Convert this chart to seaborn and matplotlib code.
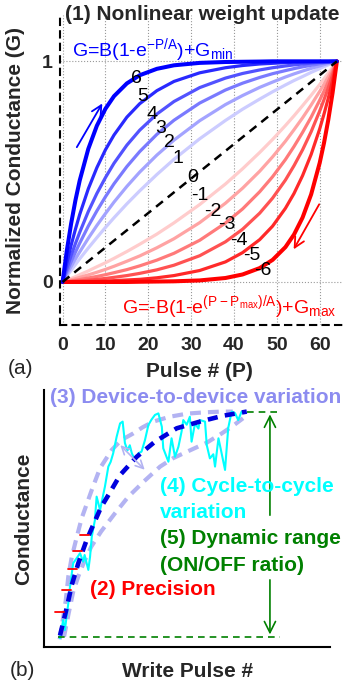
import matplotlib
matplotlib.use('Agg')
import matplotlib.pyplot as plt
import seaborn as sns

# ---------------- panel (a) data: normalized conductance vs pulse ----------------
pulse = [0, 1, 2, 3, 4, 6, 8, 10, 12, 15, 18, 22, 26, 32, 38, 42, 46, 49, 52, 54, 56, 58, 60, 61, 62, 63, 64]

# potentiation curves (nonlinearity 6 .. 1)
g_p6 = [0, .143, .265, .370, .460, .603, .708, .785, .842, .900, .937, .966, .982, .993, .997, .998, .999, 1, 1, 1, 1, 1, 1, 1, 1, 1, 1]
g_p5 = [0, .087, .167, .239, .306, .422, .518, .599, .666, .747, .808, .867, .909, .948, .971, .981, .988, .991, .994, .996, .997, .998, .999, .999, .999, 1, 1]
g_p4 = [0, .062, .120, .174, .225, .319, .401, .473, .538, .620, .688, .761, .818, .881, .924, .945, .961, .971, .979, .984, .988, .992, .995, .996, .998, .999, 1]
g_p3 = [0, .047, .092, .135, .176, .253, .322, .386, .445, .523, .591, .669, .733, .811, .870, .901, .927, .944, .958, .967, .975, .982, .989, .992, .995, .997, 1]
g_p2 = [0, .036, .070, .104, .136, .198, .256, .310, .362, .433, .498, .575, .643, .731, .804, .845, .882, .906, .929, .943, .956, .968, .979, .985, .990, .995, 1]
g_p1 = [0, .027, .053, .079, .105, .154, .201, .247, .291, .354, .413, .487, .556, .649, .732, .783, .829, .862, .893, .913, .931, .950, .967, .976, .984, .992, 1]
# depression-like curves (nonlinearity -1 .. -6)
g_m1 = [0, .008, .016, .024, .033, .050, .069, .087, .107, .138, .171, .217, .268, .351, .444, .513, .587, .646, .709, .753, .799, .846, .895, .921, .947, .973, 1]
g_m2 = [0, .005, .010, .015, .021, .032, .044, .057, .071, .094, .118, .155, .196, .269, .357, .425, .502, .567, .638, .690, .744, .802, .864, .896, .930, .964, 1]
g_m3 = [0, .003, .005, .008, .011, .018, .025, .033, .042, .056, .073, .099, .130, .189, .267, .331, .409, .477, .555, .614, .678, .747, .824, .865, .908, .953, 1]
g_m4 = [0, .001, .002, .004, .005, .008, .012, .016, .021, .029, .039, .055, .076, .119, .182, .239, .312, .380, .462, .527, .599, .681, .775, .826, .880, .938, 1]
g_m5 = [0, 0, .001, .001, .001, .002, .003, .004, .006, .009, .012, .019, .029, .052, .091, .133, .192, .253, .334, .401, .482, .578, .694, .761, .833, .913, 1]
g_m6 = [0, 0, 0, 0, 0, 0, 0, 0, 0, 0, .001, .002, .003, .007, .018, .034, .063, .100, .158, .215, .292, .397, .540, .630, .735, .857, 1]

linear_pulse = [0, 64]
linear_g = [0, 1]

nl_labels = ['6', '5', '4', '3', '2', '1', '0', '-1', '-2', '-3', '-4', '-5', '-6']
nl_label_x = [17.3, 18.8, 20.8, 23.0, 24.9, 27.0, 30.4, 32.0, 35.0, 38.3, 41.2, 44.1, 46.8]
nl_label_y = [0.92, 0.84, 0.76, 0.695, 0.63, 0.56, 0.475, 0.39, 0.32, 0.26, 0.19, 0.12, 0.054]

x_ticks_a = [0, 10, 20, 30, 40, 50, 60]
y_ticks_a = [0, 1]

# ---------------- panel (b) data: schematic of device non-idealities ----------------
mean_x = [5.6, 7.9, 9.7, 12, 14.9, 17.8, 20, 22.5, 26.6, 32.4, 38.8, 46.4, 54.5, 62.7, 70.9]
mean_y = [4.5, 15, 24.1, 32.6, 41.6, 49, 54.5, 59.1, 66.9, 74, 79.9, 85.1, 87.7, 90, 91.6]

d2d_upper_x = [5.5, 6.2, 7.6, 8.5, 9.7, 11.5, 13.2, 16.7, 19.6, 23.7, 27, 31.2, 34.5, 38.2, 44, 50, 56, 62, 66]
d2d_upper_y = [3, 7.9, 18, 27.4, 35, 43, 50.2, 61.1, 69.6, 76.7, 80.5, 83.1, 85.5, 87.7, 89.6, 90.8, 91.3, 91.6, 91.6]
d2d_lower_x = [7, 8.6, 10.2, 12, 13.8, 16.5, 20, 24.8, 29.5, 35, 40.6, 45.2, 51, 56.9, 62, 66, 69.6]
d2d_lower_y = [4, 13, 21.5, 27.5, 32.5, 39, 45, 52, 58.5, 64.5, 70.2, 73.5, 76.5, 79.5, 83, 86, 89]

c2c_x = [5.6, 6.7, 7.3, 8.5, 9.1, 10.2, 11.4, 12.6, 13.7, 14.2, 15.5, 16.1, 16.7, 17.8, 18.4, 19.6,
         21.3, 22.5, 23.3, 24.2, 25.4, 26.6, 27.5, 28.3, 29.2, 30, 30.7, 31.8, 33, 34.1, 35.3, 36.5,
         37.6, 38.8, 40, 41.2, 41.7, 43.5, 44.6, 45.8, 47, 48.1, 48.7, 49.9, 51, 51.6, 52.8, 54,
         54.5, 56.3, 56.9, 58, 59.2, 59.8, 61, 62.1, 63.3, 64.4, 65.6, 66.8, 67.9, 69.1]
c2c_y = [3.4, 10.5, 6.6, 17, 23.5, 32.6, 34.5, 36.5, 33.2, 35.8, 30, 35.1, 42.9, 49.4, 58.5, 53.3,
         62.4, 70.2, 72, 75.4, 81.8, 87, 87.7, 79.3, 76.5, 78.5, 75.4, 72.8, 75.4, 76, 80.5, 86.4,
         88.5, 90.3, 90.9, 85.7, 77.3, 72.1, 81.2, 74, 77.9, 83.8, 88.3, 86.5, 89.6, 79.9, 87, 85,
         88.3, 87.7, 78.6, 73.4, 75, 70.2, 81.2, 75.4, 68.9, 85.1, 91.6, 91, 88.3, 91.6]

precision_x = [3.8, 6.2, 8.3, 10.2, 12.6]
precision_y = [13.7, 22.2, 30.2, 37.5, 43.6]

g_min_level = 3.8
g_max_level = 91.6
range_x = 79

sns.set_theme(style='white')
plt.rcParams['font.family'] = ['Liberation Sans', 'DejaVu Sans']
plt.rcParams['mathtext.fontset'] = 'custom'
plt.rcParams['mathtext.rm'] = 'Liberation Sans'
plt.rcParams['mathtext.default'] = 'regular'

fig = plt.figure(figsize=(3.47, 6.84), dpi=100)
ax1 = fig.add_axes([60 / 347, 1 - 325 / 684, 282 / 347, 310 / 684])
ax2 = fig.add_axes([44 / 347, 1 - 647 / 684, 286 / 347, 257 / 684])

# ---- panel (a) ----
blue_curves = [g_p1, g_p2, g_p3, g_p4, g_p5, g_p6]
blue_cols = ['#CCCCFF', '#A3A3FF', '#7A7AFF', '#5252FF', '#2929FF', '#0000FF']
red_curves = [g_m1, g_m2, g_m3, g_m4, g_m5, g_m6]
red_cols = ['#FFCCCC', '#FFA3A3', '#FF7A7A', '#FF5252', '#FF2929', '#FF0000']

for i in range(6):
    w = 2.9 if i == 5 else 2.3
    sns.lineplot(x=pulse, y=red_curves[i], ax=ax1, color=red_cols[i], lw=w)
    sns.lineplot(x=pulse, y=blue_curves[i], ax=ax1, color=blue_cols[i], lw=w)
sns.lineplot(x=linear_pulse, y=linear_g, ax=ax1, color='black', lw=1.8,
             linestyle=(0, (3.5, 2.5)))

for lab, lx, ly in zip(nl_labels, nl_label_x, nl_label_y):
    ax1.text(lx, ly, lab, fontsize=14, ha='center', va='center', color='black')

ax1.text(2.2, 1.05, r'G=B(1-e$^{-P/A}$)+G$_{min}$', color='#0000FF', fontsize=14,
         ha='left', va='center')
ax1.text(13.9, -0.113, r'G=-B(1-e$^{(P-P_{max})/A}$)+G$_{max}$', color='#FF0000',
         fontsize=14, ha='left', va='center')

ax1.annotate('', xy=(9.6, 0.82), xytext=(3.0, 0.6),
             arrowprops=dict(arrowstyle='->', color='#0000FF', lw=1.3, mutation_scale=18))
ax1.annotate('', xy=(53.6, 0.137), xytext=(60.2, 0.363),
             arrowprops=dict(arrowstyle='->', color='#FF0000', lw=1.3, mutation_scale=18))

ax1.set_xlim(-0.6, 65.2)
ax1.set_ylim(-0.195, 1.21)
ax1.set_xticks(x_ticks_a)
ax1.set_yticks(y_ticks_a)
ax1.grid(True, linestyle=':', color='0.6', lw=0.8)
ax1.set_axisbelow(True)
ax1.tick_params(axis='both', length=0, labelsize=14)
ax1.tick_params(axis='x', pad=9)
ax1.tick_params(axis='y', pad=5)
for lbl in ax1.get_xticklabels() + ax1.get_yticklabels():
    lbl.set_fontweight('bold')
for side in ['top', 'right']:
    ax1.spines[side].set_visible(False)
for side in ['left', 'bottom']:
    ax1.spines[side].set_color('black')
    ax1.spines[side].set_linewidth(1.5)
    ax1.spines[side].set_linestyle((0, (3, 3)))
ax1.set_xlabel('Pulse # (P)', fontsize=15, fontweight='bold')
ax1.set_ylabel('Normalized Conductance (G)', fontsize=15, fontweight='bold')
ax1.xaxis.set_label_coords(0.496, -0.119)
ax1.yaxis.set_label_coords(-0.124, 0.5)

fig.text(65 / 347, 1 - 15 / 684, '(1) Nonlinear weight update', fontsize=15,
         fontweight='bold', ha='left', va='center')
fig.text(8 / 347, 1 - 368 / 684, '(a)', fontsize=15, ha='left', va='center')
fig.text(10 / 347, 1 - 671 / 684, '(b)', fontsize=15, ha='left', va='center')

# ---- panel (b) ----
purple_light = '#B3B3F2'
sns.lineplot(x=d2d_upper_x, y=d2d_upper_y, ax=ax2, color=purple_light, lw=3,
             linestyle=(0, (2.6, 1.7)), sort=False, estimator=None)
sns.lineplot(x=d2d_lower_x, y=d2d_lower_y, ax=ax2, color=purple_light, lw=3,
             linestyle=(0, (2.6, 1.7)), sort=False, estimator=None)
sns.lineplot(x=c2c_x, y=c2c_y, ax=ax2, color='#00FFFF', lw=1.5, sort=False, estimator=None)
sns.lineplot(x=mean_x, y=mean_y, ax=ax2, color='#0000DD', lw=3.3,
             linestyle=(0, (2.2, 1.6)), sort=False, estimator=None)

for px, py in zip(precision_x, precision_y):
    ax2.plot([px, px + 3.2], [py, py], color='#FF0000', lw=1.3)

green = '#008000'
ax2.plot([5, 82.5], [g_min_level, g_min_level], color=green, lw=1.2, linestyle=(0, (4, 3)))
ax2.plot([mean_x[-1], 82.5], [g_max_level, g_max_level], color=green, lw=1.2,
         linestyle=(0, (4, 3)))
ax2.annotate('', xy=(range_x, g_max_level), xytext=(range_x, 50.2),
             arrowprops=dict(arrowstyle='->', color=green, lw=1.2, mutation_scale=20))
ax2.annotate('', xy=(range_x, g_min_level), xytext=(range_x, 27.2),
             arrowprops=dict(arrowstyle='->', color=green, lw=1.2, mutation_scale=20))
ax2.annotate('', xy=(35.9, 68.2), xytext=(26, 79.3),
             arrowprops=dict(arrowstyle='<->', color=purple_light, lw=1.2, mutation_scale=14))

ax2.text(2.1, 96.9, '(3) Device-to-device variation', color='#8C8CF0', fontsize=15,
         fontweight='bold', ha='left', va='center')
ax2.text(40.6, 62.3, '(4) Cycle-to-cycle', color='#00FFFF', fontsize=15,
         fontweight='bold', ha='left', va='center')
ax2.text(40.6, 52.5, 'variation', color='#00FFFF', fontsize=15,
         fontweight='bold', ha='left', va='center')
ax2.text(40.6, 42.4, '(5) Dynamic range', color=green, fontsize=15,
         fontweight='bold', ha='left', va='center')
ax2.text(40.6, 31.9, '(ON/OFF ratio)', color=green, fontsize=15,
         fontweight='bold', ha='left', va='center')
ax2.text(16.1, 22.2, '(2) Precision', color='#FF0000', fontsize=15,
         fontweight='bold', ha='left', va='center')

ax2.set_xlim(0, 100)
ax2.set_ylim(0, 100)
ax2.set_xticks([])
ax2.set_yticks([])
for side in ['top', 'right']:
    ax2.spines[side].set_visible(False)
for side in ['left', 'bottom']:
    ax2.spines[side].set_color('black')
    ax2.spines[side].set_linewidth(1.5)
ax2.set_xlabel('Write Pulse #', fontsize=15, fontweight='bold')
ax2.set_ylabel('Conductance', fontsize=15, fontweight='bold')
ax2.xaxis.set_label_coords(0.502, -0.058)
ax2.yaxis.set_label_coords(-0.038, 0.498)

fig.savefig('out.png', dpi=100)
